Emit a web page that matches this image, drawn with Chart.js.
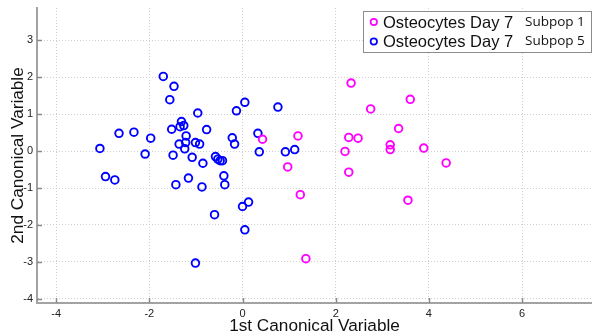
<!DOCTYPE html>
<html>
<head>
<meta charset="utf-8">
<script src="https://cdn.jsdelivr.net/npm/chart.js@4.4.1/dist/chart.umd.min.js"></script>
<style>
  html, body { margin: 0; padding: 0; background: #ffffff; overflow: hidden; }
  #wrap { position: relative; width: 592px; height: 332px; }
</style>
</head>
<body>
<div id="wrap"><canvas id="c" width="592" height="332"></canvas></div>
<script>
// ---- Data ----
const seriesNames = ["Osteocytes Day 7", "Osteocytes Day 7"];
const seriesSubLabels = ["Subpop 1", "Subpop 5"];

const subpop1X = [0.43, 1.19, 0.97, 1.24, 1.36, 2.33, 2.75, 3.60, 3.35, 2.28, 2.48, 2.20, 3.17, 3.17, 3.89, 4.37, 2.28, 3.55];
const subpop1Y = [0.32, 0.41, -0.43, -1.18, -2.91, 1.84, 1.14, 1.40, 0.61, 0.37, 0.35, -0.01, 0.17, 0.04, 0.08, -0.32, -0.57, -1.33];

const subpop5X = [-3.06, -2.65, -2.33, -1.97, -2.09, -1.70, -1.47, -1.56, -1.52, -1.31, -1.34, -1.26, -0.96, -1.21, -1.36, -1.22,
                  -1.24, -1.49, -1.01, -0.92, -0.77, -1.08, -0.85, -0.58, -0.53, -0.48, -0.43, -0.22, -0.17, -0.13, 0.05, 0.76,
                  0.33, 0.36, 0.92, 1.12, -2.94, -2.74, -1.43, -1.16, -0.87, -0.40, -0.38, -0.60, 0.00, 0.13, 0.05, -1.01];
const subpop5Y = [0.07, 0.48, 0.51, 0.35, -0.08, 2.02, 1.75, 1.39, 0.59, 0.80, 0.66, 0.69, 1.03, 0.41, 0.19, 0.23,
                  0.06, -0.11, 0.23, 0.19, 0.58, -0.17, -0.33, -0.15, -0.22, -0.26, -0.26, 0.36, 0.19, 1.09, 1.32, 1.19,
                  0.48, -0.02, -0.02, 0.04, -0.69, -0.78, -0.91, -0.73, -0.97, -0.67, -0.91, -1.72, -1.50, -1.38, -2.13, -3.03];

const xTickValues = [-4, -2, 0, 2, 4, 6];
const yTickValues = [-4, -3, -2, -1, 0, 1, 2, 3];
const xAxisTitle = "1st Canonical Variable";
const yAxisTitle = "2nd Canonical Variable";

const seriesColors = ["#ff00ff", "#0000ff"];

function toPoints(xs, ys) { return xs.map((x, i) => ({ x: x, y: ys[i] })); }

// ---- Plugins ----
const inwardTicks = {
  id: 'inwardTicks',
  afterDatasetsDraw(chart) {
    const ctx = chart.ctx, a = chart.chartArea;
    const xs = chart.scales.x, ys = chart.scales.y;
    ctx.save();
    ctx.strokeStyle = '#8a8a8a';
    ctx.lineWidth = 1.5;
    ctx.beginPath();
    xTickValues.forEach(v => {
      const px = Math.round(xs.getPixelForValue(v)) + 0.5;
      ctx.moveTo(px, a.bottom); ctx.lineTo(px, a.bottom - 5);
    });
    yTickValues.forEach(v => {
      const py = Math.round(ys.getPixelForValue(v)) + 0.5;
      ctx.moveTo(a.left, py); ctx.lineTo(a.left + 5, py);
    });
    ctx.stroke();
    ctx.restore();
  }
};

const boxLegend = {
  id: 'boxLegend',
  afterDraw(chart) {
    const ctx = chart.ctx;
    const bx = 363.5, by = 11.5, bw = 228, bh = 41;
    ctx.save();
    ctx.fillStyle = '#ffffff';
    ctx.fillRect(bx, by, bw, bh);
    ctx.strokeStyle = '#8c8c8c';
    ctx.lineWidth = 1;
    ctx.strokeRect(bx, by, bw, bh);
    chart.data.datasets.forEach((ds, i) => {
      const cy = 22 + i * 19.5;
      ctx.beginPath();
      ctx.arc(373.8, cy, 3.2, 0, Math.PI * 2);
      ctx.strokeStyle = ds.borderColor;
      ctx.lineWidth = 1.7;
      ctx.stroke();
      ctx.fillStyle = '#111111';
      ctx.textBaseline = 'middle';
      ctx.textAlign = 'left';
      ctx.font = '16.5px "Liberation Sans", Arial, sans-serif';
      ctx.fillText(seriesNames[i], 383, cy + 1);
      ctx.font = '13.5px "Open Sans", sans-serif';
      ctx.fillText(seriesSubLabels[i], 525, cy);
    });
    ctx.restore();
  }
};

// ---- Chart ----
new Chart(document.getElementById('c'), {
  type: 'scatter',
  data: {
    datasets: [
      {
        label: seriesNames[0] + ' ' + seriesSubLabels[0],
        data: toPoints(subpop1X, subpop1Y),
        borderColor: seriesColors[0],
        backgroundColor: 'rgba(0,0,0,0)',
        pointRadius: 3.8,
        pointBorderWidth: 1.9,
        pointStyle: 'circle'
      },
      {
        label: seriesNames[1] + ' ' + seriesSubLabels[1],
        data: toPoints(subpop5X, subpop5Y),
        borderColor: seriesColors[1],
        backgroundColor: 'rgba(0,0,0,0)',
        pointRadius: 3.8,
        pointBorderWidth: 1.9,
        pointStyle: 'circle'
      }
    ]
  },
  options: {
    responsive: false,
    animation: false,
    devicePixelRatio: 1,
    layout: { autoPadding: false, padding: { top: 8, right: 0, left: 0, bottom: 0 } },
    plugins: { legend: { display: false }, tooltip: { enabled: false } },
    scales: {
      x: {
        type: 'linear',
        min: -4.41,
        max: 7.5,
        afterFit: s => { s.height = 29; s.paddingLeft = 0; s.paddingRight = 0; },
        afterBuildTicks: s => { s.ticks = xTickValues.map(v => ({ value: v })); },
        grid: { color: '#cfcfcf', lineWidth: 1, drawTicks: false },
        border: { display: true, color: '#a3a3a3', width: 2, dash: [1, 2] },
        ticks: {
          padding: 4,
          maxRotation: 0,
          color: '#222222',
          font: { family: '"Liberation Sans", Arial, sans-serif', size: 11 }
        },
        title: {
          display: true,
          text: xAxisTitle,
          color: '#111111',
          padding: { top: 0, bottom: 0 },
          font: { family: '"Liberation Sans", Arial, sans-serif', size: 17.2, lineHeight: 0.72 }
        }
      },
      y: {
        type: 'linear',
        min: -4.11,
        max: 3.87,
        afterFit: s => { s.width = 37; s.paddingTop = 0; s.paddingBottom = 0; },
        afterBuildTicks: s => { s.ticks = yTickValues.map(v => ({ value: v })); },
        grid: { color: '#cfcfcf', lineWidth: 1, drawTicks: false },
        border: { display: true, color: '#a3a3a3', width: 2, dash: [1, 2] },
        ticks: {
          padding: 4,
          color: '#222222',
          font: { family: '"Liberation Sans", Arial, sans-serif', size: 11 }
        },
        title: {
          display: true,
          text: yAxisTitle,
          color: '#111111',
          padding: { top: 8, bottom: 0 },
          font: { family: '"Liberation Sans", Arial, sans-serif', size: 17.2, lineHeight: 1.15 }
        }
      }
    }
  },
  plugins: [inwardTicks, boxLegend]
});
</script>
</body>
</html>
